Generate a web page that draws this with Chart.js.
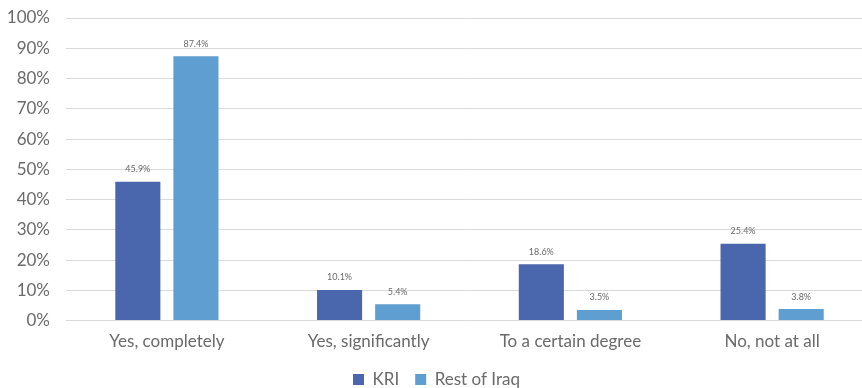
<!DOCTYPE html>
<html>
<head>
<meta charset="utf-8">
<script src="https://cdn.jsdelivr.net/npm/chart.js@4"></script>
<style>
  html, body { margin: 0; padding: 0; overflow: hidden; background: #fff; }
  #wrap { width: 873px; height: 398px; }
</style>
</head>
<body>
<div id="wrap"><canvas id="chart"></canvas></div>
<script>
// answers and shares (%)
var categories = ["Yes, completely", "Yes, significantly", "To a certain degree", "No, not at all"];
var kri = [45.9, 10.1, 18.6, 25.4];
var restOfIraq = [87.4, 5.4, 3.5, 3.8];
var yTicks = [0, 10, 20, 30, 40, 50, 60, 70, 80, 90, 100];

var grey = "#6a6a6a";
var font = "Lato, 'Open Sans', sans-serif";

// small value labels above each bar
var barLabels = {
  id: "barLabels",
  afterDatasetsDraw: function (chart) {
    var ctx = chart.ctx;
    ctx.save();
    ctx.font = "9px " + font;
    ctx.fillStyle = grey;
    ctx.textAlign = "center";
    ctx.textBaseline = "bottom";
    chart.data.datasets.forEach(function (ds, i) {
      chart.getDatasetMeta(i).data.forEach(function (bar, j) {
        ctx.fillText(ds.data[j].toFixed(1) + "%", bar.x, bar.y - 8);
      });
    });
    ctx.restore();
  }
};

new Chart(document.getElementById("chart"), {
  type: "bar",
  data: {
    labels: categories,
    datasets: [
      { label: "KRI", data: kri, backgroundColor: "#4A66AC" },
      { label: "Rest of Iraq", data: restOfIraq, backgroundColor: "#5F9ED1" }
    ]
  },
  options: {
    responsive: true,
    maintainAspectRatio: false,
    animation: false,
    categoryPercentage: 0.576,
    barPercentage: 0.776,
    layout: { padding: { top: 18, left: 0, right: 0, bottom: 0 } },
    plugins: {
      legend: {
        position: "bottom",
        labels: {
          boxWidth: 11,
          boxHeight: 11,
          padding: 16,
          color: grey,
          font: { family: font, size: 17 }
        }
      },
      tooltip: { enabled: false }
    },
    scales: {
      x: {
        grid: { display: false },
        border: { display: false },
        ticks: { color: grey, font: { family: font, size: 17 }, padding: 3 },
        afterFit: function (axis) {
          axis.paddingLeft = 0;
          axis.paddingRight = 0;
        }
      },
      y: {
        min: 0,
        max: 100,
        afterBuildTicks: function (axis) {
          axis.ticks = yTicks.map(function (v) { return { value: v }; });
        },
        afterFit: function (axis) {
          axis.width = 66;
          axis.paddingTop = 0;
        },
        grid: { color: "#d9d9d9", drawTicks: false },
        border: { display: false },
        ticks: {
          color: grey,
          font: { family: font, size: 17 },
          padding: 16,
          callback: function (v) { return v + "%"; }
        }
      }
    }
  },
  plugins: [barLabels]
});
</script>
</body>
</html>
